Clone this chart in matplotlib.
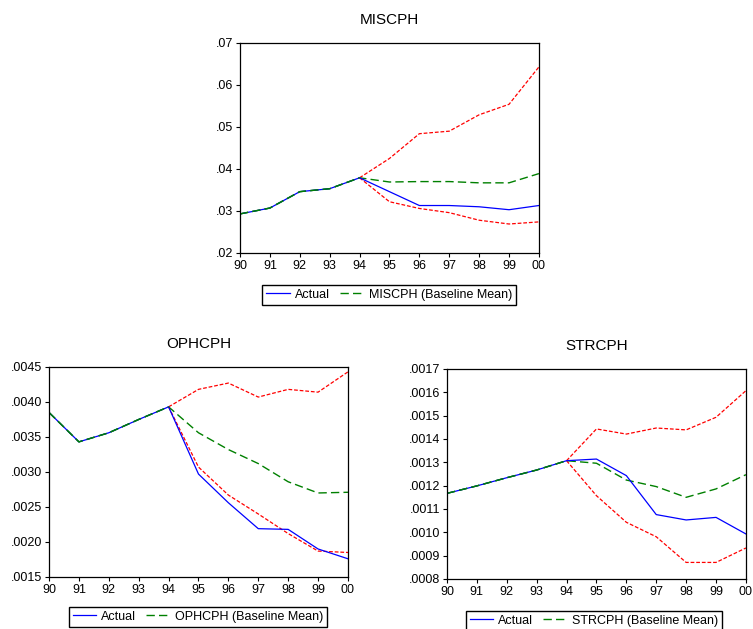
import matplotlib
matplotlib.use("Agg")
import matplotlib.pyplot as plt
import numpy as np

plt.rcParams['font.family'] = ['Liberation Sans', 'DejaVu Sans']

years = np.arange(1990, 2001)
year_labels = ['90', '91', '92', '93', '94', '95', '96', '97', '98', '99', '00']
fc_years = years[4:]  # 94..00, bands start at 94

# MISCPH
misc_actual = [.0293, .0307, .0346, .0353, .0379, .0346, .0313, .0313, .0310, .0303, .0313]
misc_mean = [.0293, .0307, .0346, .0353, .0379, .0369, .0370, .0370, .0367, .0367, .0389]
misc_upper = [.0379, .0425, .0484, .0490, .0529, .0554, .0643]
misc_lower = [.0379, .0322, .0306, .0296, .0278, .0269, .0274]

# OPHCPH
oph_actual = [.00385, .00343, .00356, .00375, .00393, .00297, .00256, .00219, .00218, .00190, .00176]
oph_mean = [.00385, .00343, .00356, .00375, .00393, .00356, .00332, .00312, .00286, .00270, .00271]
oph_upper = [.00393, .00418, .00427, .00407, .00418, .00414, .00443]
oph_lower = [.00393, .00307, .00267, .00240, .00212, .00187, .00185]

# STRCPH
str_actual = [.001167, .001199, .001234, .001267, .001307, .001314, .001243, .001076, .001053, .001064, .000993]
str_mean = [.001167, .001199, .001234, .001267, .001307, .001296, .001224, .001196, .001150, .001186, .001247]
str_upper = [.001307, .001443, .001421, .001447, .001439, .001493, .001607]
str_lower = [.001307, .001157, .001043, .000981, .000871, .000871, .000933]

panels = [
    ('MISCPH', misc_actual, misc_mean, misc_upper, misc_lower,
     np.arange(.02, .0701, .01), '%.2f', [0.3187, 0.5978, 0.397, 0.3339], (389, 285)),
    ('OPHCPH', oph_actual, oph_mean, oph_upper, oph_lower,
     np.arange(.0015, .00451, .0005), '%.4f', [0.0651, 0.0827, 0.397, 0.3339], (198, 607)),
    ('STRCPH', str_actual, str_mean, str_upper, str_lower,
     np.arange(.0008, .00171, .0001), '%.4f', [0.5936, 0.0795, 0.397, 0.3339], (594, 611)),
]

W, H = 753, 629
fig = plt.figure(figsize=(W / 100, H / 100), dpi=100)

green_ls = (0, (6, 3))
red_ls = (0, (3, 1.5))

for name, act, mean, up, lo, yt, fmt, rect, (lx, ly) in panels:
    ax = fig.add_axes(rect)
    ax.plot(fc_years, up, color='#ff0000', lw=0.9, ls=red_ls)
    ax.plot(fc_years, lo, color='#ff0000', lw=0.9, ls=red_ls)
    ax.plot(years, mean, color='#008000', lw=1.0, ls=green_ls)
    la, = ax.plot(years, act, color='#0000ff', lw=0.9)
    # history part: green drawn over blue, as in the source
    ax.plot(years[:5], mean[:5], color='#008000', lw=1.0, ls=green_ls)
    lm, = ax.plot([], [], color='#008000', lw=1.0, ls=green_ls)

    ax.set_xlim(1990, 2000)
    ax.set_ylim(yt[0], yt[-1])
    ax.set_xticks(years)
    ax.set_xticklabels(year_labels)
    ax.set_yticks(yt)
    ax.set_yticklabels([(fmt % v).lstrip('0') for v in yt])
    ax.tick_params(direction='out', length=3, width=0.8, labelsize=9,
                   top=False, right=False, pad=2, colors='black')
    for s in ax.spines.values():
        s.set_linewidth(0.9)
    ax.set_title(name, fontsize=11, pad=14)

    fig.legend([la, lm], ['Actual', name + ' (Baseline Mean)'],
               loc='upper center', bbox_to_anchor=(lx / W, 1 - ly / H),
               ncol=2, fontsize=9, frameon=True, fancybox=False,
               edgecolor='black', framealpha=1, handlelength=1.9,
               columnspacing=0.8, borderpad=0.3, handletextpad=0.4,
               borderaxespad=0)

fig.savefig('out.png', dpi=100)
